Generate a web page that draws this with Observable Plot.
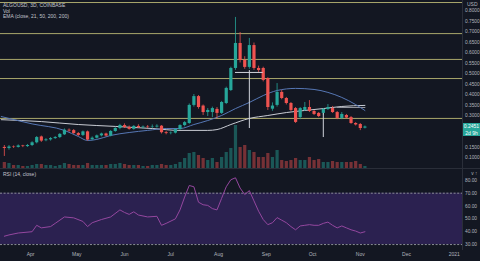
<!DOCTYPE html>
<html><head><meta charset="utf-8">
<script src="https://cdn.jsdelivr.net/npm/d3@7"></script>
<script src="https://cdn.jsdelivr.net/npm/@observablehq/plot@0.6"></script>
<style>
html,body{margin:0;padding:0;background:#131722;}
#wrap{position:relative;width:480px;height:261px;overflow:hidden;background:#131722;font-family:"Liberation Sans",Arial,sans-serif;}
#wrap > div.layer{position:absolute;left:0;}
.lbl{position:absolute;color:#c3c6ce;font-size:5px;white-space:nowrap;line-height:5px;}
.tag{position:absolute;left:463px;width:17px;height:6.5px;background:#26a69a;color:#fff;font-size:5px;line-height:6.5px;text-align:center;}
.sep{position:absolute;background:#2a2e39;}
</style></head><body><div id="wrap"></div>
<script>
const dates = ["2020-03-15","2020-03-18","2020-03-21","2020-03-24","2020-03-27","2020-03-30","2020-04-02","2020-04-05","2020-04-08","2020-04-11","2020-04-14","2020-04-17","2020-04-20","2020-04-23","2020-04-26","2020-04-29","2020-05-02","2020-05-05","2020-05-08","2020-05-11","2020-05-14","2020-05-17","2020-05-20","2020-05-23","2020-05-26","2020-05-29","2020-06-01","2020-06-04","2020-06-07","2020-06-10","2020-06-13","2020-06-16","2020-06-19","2020-06-22","2020-06-25","2020-06-28","2020-07-01","2020-07-04","2020-07-07","2020-07-10","2020-07-13","2020-07-16","2020-07-19","2020-07-22","2020-07-25","2020-07-28","2020-07-31","2020-08-03","2020-08-06","2020-08-09","2020-08-12","2020-08-15","2020-08-18","2020-08-21","2020-08-24","2020-08-27","2020-08-30","2020-09-02","2020-09-05","2020-09-08","2020-09-11","2020-09-14","2020-09-17","2020-09-20","2020-09-23","2020-09-26","2020-09-29","2020-10-02","2020-10-05","2020-10-08","2020-10-11","2020-10-14","2020-10-17","2020-10-20","2020-10-23","2020-10-26","2020-10-29","2020-11-01","2020-11-04"];
const open  = [.148,.143,.150,.148,.155,.152,.157,.170,.198,.180,.184,.190,.195,.208,.230,.228,.214,.205,.222,.185,.192,.203,.212,.202,.224,.238,.252,.243,.234,.248,.242,.245,.243,.245,.249,.218,.214,.216,.233,.252,.262,.348,.390,.345,.314,.314,.329,.310,.357,.419,.524,.643,.562,.529,.633,.524,.524,.476,.330,.348,.410,.381,.357,.333,.290,.324,.338,.319,.310,.310,.329,.333,.314,.286,.300,.290,.262,.257,.240];
const high  = [.157,.157,.155,.160,.158,.162,.175,.200,.202,.190,.195,.200,.214,.236,.236,.233,.219,.226,.226,.198,.207,.216,.216,.228,.242,.258,.260,.250,.252,.256,.250,.252,.255,.256,.252,.224,.222,.236,.256,.271,.355,.400,.395,.350,.333,.340,.338,.367,.435,.530,.767,.695,.580,.667,.645,.535,.530,.480,.360,.452,.420,.386,.362,.338,.338,.362,.371,.324,.314,.333,.352,.343,.319,.314,.305,.295,.266,.262,.250];
const low   = [.105,.135,.143,.145,.147,.148,.152,.165,.172,.175,.178,.186,.190,.205,.220,.210,.200,.200,.178,.180,.188,.198,.198,.198,.220,.232,.238,.230,.230,.238,.235,.238,.238,.240,.212,.208,.208,.212,.229,.246,.258,.340,.330,.300,.295,.290,.285,.305,.352,.414,.515,.550,.520,.520,.515,.505,.460,.324,.320,.340,.375,.350,.318,.262,.280,.319,.314,.300,.290,.300,.324,.310,.280,.280,.284,.258,.250,.228,.236];
const close = [.143,.150,.148,.155,.152,.157,.170,.195,.178,.184,.190,.195,.210,.230,.226,.214,.205,.222,.183,.192,.203,.212,.202,.224,.238,.252,.243,.234,.248,.242,.245,.243,.245,.249,.218,.214,.216,.233,.252,.266,.348,.390,.338,.314,.324,.333,.310,.362,.429,.524,.643,.562,.529,.633,.524,.514,.467,.338,.345,.410,.381,.357,.324,.267,.333,.338,.319,.305,.295,.329,.338,.314,.286,.305,.288,.262,.255,.238,.2451];
const volume = [6,5,3,3,2,2,3,4,4,3,3,2,3,5,4,3,3,3,5,3,3,3,3,4,4,5,4,3,3,3,2,2,3,3,4,3,3,4,6,10,15,16,13,10,8,10,6,11,16,20,43,21,23,18,16,11,11,15,11,18,8,7,8,10,8,8,11,8,9,6,6,7,6,6,6,6,7,4,2];

// moving averages (date, price)
const maFastDates = ["2020-03-13","2020-04-02","2020-04-23","2020-05-02","2020-05-08","2020-05-14","2020-05-23","2020-06-04","2020-06-16","2020-06-28","2020-07-07","2020-07-16","2020-07-25","2020-08-03","2020-08-12","2020-08-21","2020-08-30","2020-09-08","2020-09-20","2020-10-02","2020-10-11","2020-10-20","2020-10-29","2020-11-04"];
const maFastVal = [.295,.260,.229,.200,.181,.186,.205,.219,.229,.238,.238,.257,.276,.300,.333,.362,.395,.419,.429,.424,.410,.386,.352,.324];
const maSlowDates = ["2020-03-13","2020-04-08","2020-05-02","2020-05-26","2020-06-19","2020-07-07","2020-07-25","2020-07-31","2020-08-09","2020-08-21","2020-09-02","2020-09-14","2020-09-26","2020-10-08","2020-10-20","2020-11-04"];
const maSlowVal = [.280,.271,.257,.248,.238,.229,.229,.233,.257,.286,.300,.314,.324,.333,.343,.348];
const maSlow2Dates = ["2020-10-17","2020-11-04"];
const maSlow2Val = [.338,.338];

// RSI (14, close) (candle index, value)
const rsiIdx = [0,1,3,6,7,8,10,11,13,15,17,18,19,21,23,25,26,27,28,29,31,33,34,35,37,38,39,40,41,42,43,44,45,46,47,48,49,50,51,52,53,54,55,56,57,58,59,60,61,62,63,64,65,66,67,68,69,70,71,72,73,74,75,76,77,78];
const rsiVal = [36.5,37.5,39,40,45,43,44,46.5,51.5,50.8,48,44,47,49.5,51.5,57,55,53.5,55.5,53,51.5,52,45,46.5,50,57,67,76,75,63,61,60.5,58,57,66,75,80.5,82,74,69,72,64,56,49.5,45.5,47,51,49,47,44,41.5,44.5,45,45.5,45,45,46.5,47.5,45,43,44.5,43,41.5,40.5,39,40];
const rsiBand = [30, 70];
const rsiTicks = [30,40,50,60,70,80];

const levels = [0.838, 0.69, 0.567, 0.476, 0.286];
const priceTicks = [0.10,0.15,0.30,0.35,0.40,0.45,0.50,0.55,0.60,0.65,0.70,0.75,0.80];
const noteV = [{at:"2020-08-21", from:0.238, to:0.514}, {at:"2020-10-08", from:0.195, to:0.31}];
const noteH = [{level:0.505, from:"2020-08-12", to:"2020-08-30"}];

const monthTicks = ["2020-04-01","2020-05-01","2020-06-01","2020-07-01","2020-08-01","2020-09-01","2020-10-01","2020-11-01","2020-12-01","2021-01-01"];
const monthLabels = ["Apr","May","Jun","Jul","Aug","Sep","Oct","Nov","Dec","2021"];

const titleLines = ["ALGOUSD, 3D, COINBASE", "Vol", "EMA (close, 21, 50, 200, 200)"];

const D = s => new Date(s + "T00:00:00Z");
const xDomain = [new Date("2020-03-12T12:00:00Z"), new Date("2021-01-06T08:00:00Z")];
const UP = "#26a69a", DOWN = "#ef5350";
const FONT = "Liberation Sans, Arial, sans-serif";

const candles = dates.map((d,i)=>({date:D(d), open:open[i], high:high[i], low:low[i], close:close[i], vol:volume[i], up: close[i] >= open[i]}));
const maFast = maFastDates.map((d,j)=>({date:D(d), v:maFastVal[j]}));
const maSlow = maSlowDates.map((d,j)=>({date:D(d), v:maSlowVal[j]}));
const maSlow2 = maSlow2Dates.map((d,j)=>({date:D(d), v:maSlow2Val[j]}));
const rsi = rsiIdx.map((k,j)=>({date:D(dates[k]), v:rsiVal[j]}));

const wrap = document.getElementById("wrap");
const common = {width:480, marginLeft:0, marginRight:18, marginTop:0, marginBottom:0,
  style:{background:"transparent", color:"#b2b5be", fontFamily:FONT, fontSize:"5px", overflow:"visible"}};

// volume layer
const volPlot = Plot.plot({...common, height:168,
  x:{type:"utc", domain:xDomain, axis:null},
  y:{domain:[0,168], axis:null},
  marks:[
    Plot.ruleX(candles, {x:"date", y1:0, y2:"vol", stroke:d=>d.up?UP:DOWN, strokeOpacity:0.45, strokeWidth:3.2})
  ]});

// price layer
const mainPlot = Plot.plot({...common, height:168,
  x:{type:"utc", domain:xDomain, axis:null},
  y:{domain:[0.0476,0.8476], axis:null},
  marks:[
    Plot.ruleY(levels, {stroke:"#a9a76c", strokeWidth:1}),
    Plot.line(maSlow, {x:"date", y:"v", stroke:"#c9ccd4", strokeWidth:1, curve:"monotone-x"}),
    Plot.line(maSlow2, {x:"date", y:"v", stroke:"#9598a1", strokeWidth:1}),
    Plot.line(maFast, {x:"date", y:"v", stroke:"#5677b5", strokeWidth:1, curve:"monotone-x"}),
    Plot.ruleX(candles, {x:"date", y1:"low", y2:"high", stroke:d=>d.up?UP:DOWN, strokeWidth:0.8}),
    Plot.ruleX(candles, {x:"date", y1:"open", y2:"close", stroke:d=>d.up?UP:DOWN, strokeWidth:3.2}),
    Plot.ruleX(noteV, {x:d=>D(d.at), y1:"from", y2:"to", stroke:"#d1d4dc", strokeWidth:1}),
    Plot.ruleY(noteH, {y:"level", x1:d=>D(d.from), x2:d=>D(d.to), stroke:"#d1d4dc", strokeWidth:1}),
    Plot.axisY(priceTicks, {anchor:"right", tickSize:0, tickPadding:2.5, tickFormat:d=>d.toFixed(4), fill:"#b2b5be", fontSize:4.8})
  ]});

// RSI layer
const labelOf = new Map(monthTicks.map((m,i)=>[D(m).getTime(), monthLabels[i]]));
const rsiPlot = Plot.plot({...common, height:92, marginTop:1, marginBottom:11,
  x:{type:"utc", domain:xDomain, axis:null},
  y:{domain:[26.15,88.46], axis:null},
  marks:[
    Plot.rectY([rsiBand], {x1:xDomain[0], x2:xDomain[1], y1:d=>d[0], y2:d=>d[1], fill:"#2b2150"}),
    Plot.ruleY(rsiBand, {stroke:"#8a8d96", strokeWidth:1, strokeDasharray:"2,1.6"}),
    Plot.line(rsi, {x:"date", y:"v", stroke:"#94479f", strokeWidth:1}),
    Plot.axisY(rsiTicks, {anchor:"right", tickSize:0, tickPadding:2.5, tickFormat:d=>d.toFixed(2), fill:"#b2b5be", fontSize:4.8}),
    Plot.axisX(monthTicks.map(D), {anchor:"bottom", tickSize:0, tickPadding:3, tickFormat:d=>labelOf.get(d.getTime()), fill:"#b2b5be", fontSize:5})
  ]});

function layer(node, top){ const d=document.createElement("div"); d.className="layer"; d.style.top=top+"px"; d.appendChild(node); wrap.appendChild(d); }
layer(volPlot, 0);
layer(mainPlot, 0);
layer(rsiPlot, 168);

function addDiv(cls, css, text){ const d=document.createElement("div"); d.className=cls; Object.assign(d.style, css); if(text!=null) d.textContent=text; wrap.appendChild(d); return d; }
addDiv("sep", {left:"0px", top:"168px", width:"480px", height:"1px"});
addDiv("sep", {left:"462px", top:"0px", width:"1px", height:"250px"});
titleLines.forEach((t,i)=>addDiv("lbl", {left:"3px", top:(3+i*5.5)+"px"}, t));
addDiv("lbl", {left:"3px", top:"172px"}, "RSI (14, close)");
addDiv("lbl", {left:"467px", top:"2px", color:"#b2b5be"}, "USD");

const yS = mainPlot.scale("y");
const last = close[close.length-1];
const ty = yS.apply(last);
addDiv("tag", {top:(ty-3.5)+"px"}, last.toFixed(4));
addDiv("tag", {top:(ty+3)+"px"}, "2d 9h");
</script></body></html>
